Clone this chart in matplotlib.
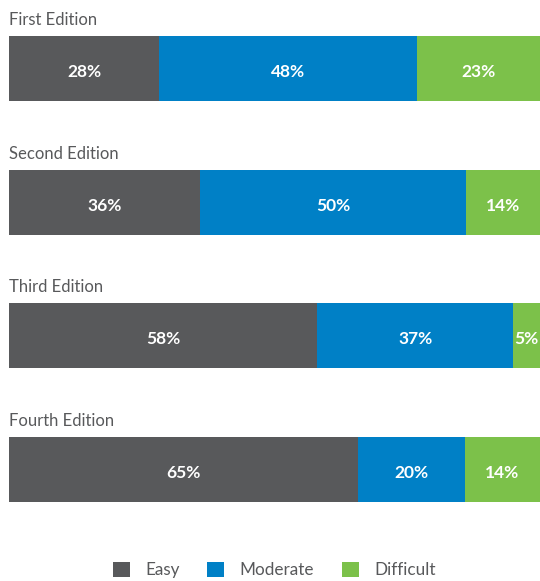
import matplotlib
matplotlib.use("Agg")
import matplotlib.pyplot as plt
from matplotlib.patches import Patch

editions = ["First Edition", "Second Edition", "Third Edition", "Fourth Edition"]
levels = ["Easy", "Moderate", "Difficult"]
easy = [28, 36, 58, 65]
moderate = [48, 50, 37, 20]
difficult = [23, 14, 5, 14]

colors = ["#58595b", "#0080c6", "#7cc14a"]
text_grey = "#58595b"

plt.rcParams["font.family"] = ["Lato", "DejaVu Sans"]

W, H = 540, 581
fig = plt.figure(figsize=(W / 100, H / 100), dpi=100)

bar_tops = [36, 170, 303, 437]
bar_h = 65
left_px, width_px = 9, 531

for i, name in enumerate(editions):
    top = bar_tops[i]
    ax = fig.add_axes([left_px / W, 1 - (top + bar_h) / H, width_px / W, bar_h / H])
    vals = [easy[i], moderate[i], difficult[i]]
    total = sum(vals)
    start = 0
    for v, c in zip(vals, colors):
        ax.barh(0, v, left=start, height=1.0, color=c, edgecolor="none")
        ax.annotate(f"{v}%", xy=(start + v / 2, 0), xycoords="data",
                    xytext=(0, -6), textcoords="offset points",
                    ha="center", va="baseline",
                    color="white", fontsize=12.5, fontweight="bold")
        start += v
    ax.set_xlim(0, total)
    ax.set_ylim(-0.5, 0.5)
    ax.axis("off")
    ax.annotate(name, xy=(0, 1), xycoords="axes fraction",
                xytext=(0, 8), textcoords="offset points",
                ha="left", va="baseline", fontsize=12, color=text_grey)

handles = [Patch(facecolor=c, edgecolor="none") for c in colors]
fig.legend(handles, levels, loc="center", bbox_to_anchor=(0.508, 1 - 570 / H),
           ncol=3, frameon=False, fontsize=12.3, labelcolor=text_grey,
           handlelength=1.0, handleheight=1.0, handletextpad=0.9,
           columnspacing=1.6, borderpad=0)

fig.savefig("out.png", dpi=100, facecolor="white")
